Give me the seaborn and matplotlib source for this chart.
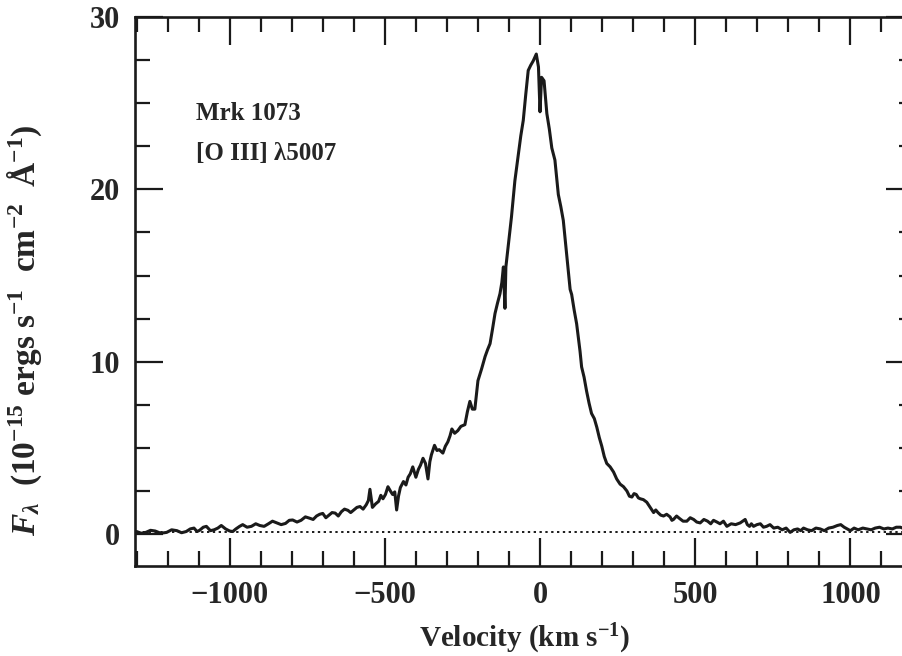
import numpy as np
import matplotlib
matplotlib.use("Agg")
import matplotlib.pyplot as plt
import matplotlib.ticker as ticker
import seaborn as sns
import pandas as pd

''' data read off the figure '''
# velocity (km/s)
velocity = [-1300, -1285, -1270, -1255, -1240, -1222, -1203, -1187, -1170, -1155,
            -1140, -1127, -1115, -1105, -1097, -1085, -1075, -1062, -1050, -1038,
            -1027, -1013, -1000, -990, -980, -968, -958, -944, -930, -916,
            -903, -889, -875, -862, -848, -834, -820, -808, -797, -783,
            -770, -756, -742, -731, -720, -710, -700, -690, -680, -670,
            -660, -650, -640, -630, -619, -610, -600, -590, -580, -570,
            -560, -553, -548, -540, -530, -520, -513, -506, -498, -490,
            -482, -475, -468, -462, -456, -450, -440, -432, -425, -418,
            -410, -405, -400, -392, -385, -377, -369, -361, -355, -350,
            -340, -332, -325, -313, -305, -297, -290, -284, -275, -265,
            -255, -242, -234, -226, -218, -210, -200, -188, -177, -169,
            -161, -153, -145, -137, -129, -123, -118, -113, -110, -102,
            -92, -81, -70, -62, -54, -46, -38, -30, -22, -12,
            -5, 0, 5, 13, 22, 30, 38, 48, 59, 67,
            75, 86, 97, 102, 110, 118, 129, 134, 142, 150,
            158, 166, 175, 183, 191, 199, 207, 215, 226, 237,
            247, 258, 269, 280, 288, 296, 303, 310, 317, 323,
            333, 344, 355, 366, 373, 380, 389, 398, 408, 419,
            425, 430, 440, 450, 461, 473, 484, 495, 505, 516,
            528, 540, 550, 559, 570, 580, 591, 602, 616, 630,
            645, 661, 668, 675, 681, 688, 699, 710, 720, 730,
            741, 753, 766, 780, 793, 806, 818, 830, 840, 849,
            862, 875, 889, 903, 916, 930, 944, 958, 969, 980,
            990, 1000, 1012, 1025, 1040, 1054, 1067, 1080, 1094, 1108,
            1121, 1135, 1148, 1161, 1175, 1190, 1205]
# flux (1e-15 erg/s/cm2/A)
flux = [0.15, 0.05, 0.10, 0.22, 0.18, 0.05, 0.10, 0.25, 0.20, 0.08,
        0.15, 0.30, 0.35, 0.15, 0.22, 0.40, 0.45, 0.20, 0.25, 0.35,
        0.50, 0.30, 0.18, 0.15, 0.30, 0.45, 0.55, 0.40, 0.45, 0.60,
        0.50, 0.45, 0.60, 0.75, 0.65, 0.55, 0.62, 0.80, 0.82, 0.70,
        0.80, 1.00, 0.92, 0.85, 1.05, 1.15, 1.20, 0.95, 1.10, 1.25,
        1.22, 1.05, 1.30, 1.45, 1.38, 1.25, 1.40, 1.55, 1.60, 1.45,
        1.70, 1.95, 2.60, 1.55, 1.75, 1.90, 2.25, 2.05, 2.30, 2.75,
        2.50, 2.30, 2.45, 1.40, 2.20, 2.70, 3.05, 2.85, 3.30, 3.50,
        3.90, 3.60, 3.30, 3.75, 4.00, 4.40, 4.10, 3.20, 4.20, 4.60,
        5.15, 4.85, 4.90, 4.70, 5.10, 5.35, 5.70, 6.10, 5.85, 6.00,
        6.25, 6.35, 7.10, 7.70, 7.25, 7.25, 8.90, 9.60, 10.30, 10.70,
        11.05, 11.90, 12.80, 13.40, 13.95, 14.60, 15.50, 13.10, 15.50, 16.80,
        18.40, 20.50, 22.00, 23.10, 24.00, 25.50, 26.90, 27.20, 27.45, 27.85,
        27.10, 24.50, 26.50, 26.30, 24.40, 23.50, 22.40, 21.70, 19.70, 19.00,
        18.20, 16.20, 14.20, 13.90, 13.00, 12.20, 10.60, 9.70, 9.10, 8.30,
        7.60, 7.00, 6.70, 6.20, 5.60, 5.10, 4.50, 4.10, 3.90, 3.60,
        3.20, 2.90, 2.75, 2.50, 2.20, 2.15, 2.35, 2.30, 2.10, 2.05,
        2.00, 1.85, 1.55, 1.25, 1.40, 1.25, 1.10, 1.05, 1.15, 1.00,
        0.80, 0.85, 1.05, 0.90, 0.75, 0.75, 0.95, 0.85, 0.70, 0.65,
        0.85, 0.75, 0.60, 0.80, 0.70, 0.60, 0.75, 0.45, 0.60, 0.55,
        0.65, 0.85, 0.55, 0.45, 0.60, 0.45, 0.55, 0.60, 0.40, 0.45,
        0.55, 0.35, 0.40, 0.25, 0.35, 0.10, 0.25, 0.30, 0.20, 0.35,
        0.25, 0.20, 0.35, 0.30, 0.20, 0.35, 0.40, 0.50, 0.55, 0.40,
        0.30, 0.20, 0.35, 0.25, 0.35, 0.30, 0.25, 0.35, 0.40, 0.30,
        0.35, 0.30, 0.40, 0.40, 0.30, 0.35, 0.40]

# continuum level (dotted)
cont_v = [-1300, 1205]
cont_f = [0.15, 0.15]

obj_name = 'Mrk 1073'
line_name = '[O III] λ5007'

''' style '''
sns.set_style('ticks')
plt.rcParams['font.family'] = ['Liberation Serif', 'DejaVu Serif']
plt.rcParams['font.weight'] = 'bold'
plt.rcParams['axes.labelweight'] = 'bold'
plt.rcParams['mathtext.fontset'] = 'custom'
plt.rcParams['mathtext.rm'] = 'Liberation Serif:bold'
plt.rcParams['mathtext.it'] = 'Liberation Serif:italic:bold'
plt.rcParams['mathtext.bf'] = 'Liberation Serif:bold'

fig = plt.figure(figsize=(9.03, 6.56), dpi=100)
ax = fig.add_axes([135/903, 90/656, 779/903, 549/656])

df = pd.DataFrame({'v': velocity, 'f': flux})
sns.lineplot(data=df, x='v', y='f', ax=ax, color='#1a1a1a', lw=2.2, sort=False)
ax.plot(cont_v, cont_f, color='#1a1a1a', ls=(0, (1.2, 1.8)), lw=1.4)

ax.set_xlim(-1305, 1205)
ax.set_ylim(-1.85, 30)

#ticks
ax.xaxis.set_major_locator(ticker.MultipleLocator(500))
ax.xaxis.set_minor_locator(ticker.MultipleLocator(100))
ax.yaxis.set_major_locator(ticker.MultipleLocator(10))
ax.yaxis.set_minor_locator(ticker.MultipleLocator(2.5))
ax.tick_params(which='both', direction='in', top=True, right=True,
               width=1.6, color='#1a1a1a', labelsize=22, pad=11)
ax.tick_params(which='major', length=20)
ax.tick_params(which='minor', length=11)
for s in ax.spines.values():
    s.set_linewidth(1.9)
    s.set_color('#1a1a1a')

ax.set_xlabel('Velocity (km s$^{-1}$)', fontsize=21, fontweight='bold', labelpad=8)
ax.set_ylabel(r'$F_{\lambda}$  (10$^{-15}$ ergs s$^{-1}$  cm$^{-2}$  Å$^{-1}$)',
              fontsize=24, fontweight='bold')
ax.yaxis.set_label_coords(-0.117, 0.43)

ax.text(0.078, 0.825, obj_name, transform=ax.transAxes, fontsize=18,
        fontweight='bold', va='center')
ax.text(0.078, 0.752, line_name, transform=ax.transAxes, fontsize=18,
        fontweight='bold', va='center')

fig.savefig('out.png', dpi=100)
